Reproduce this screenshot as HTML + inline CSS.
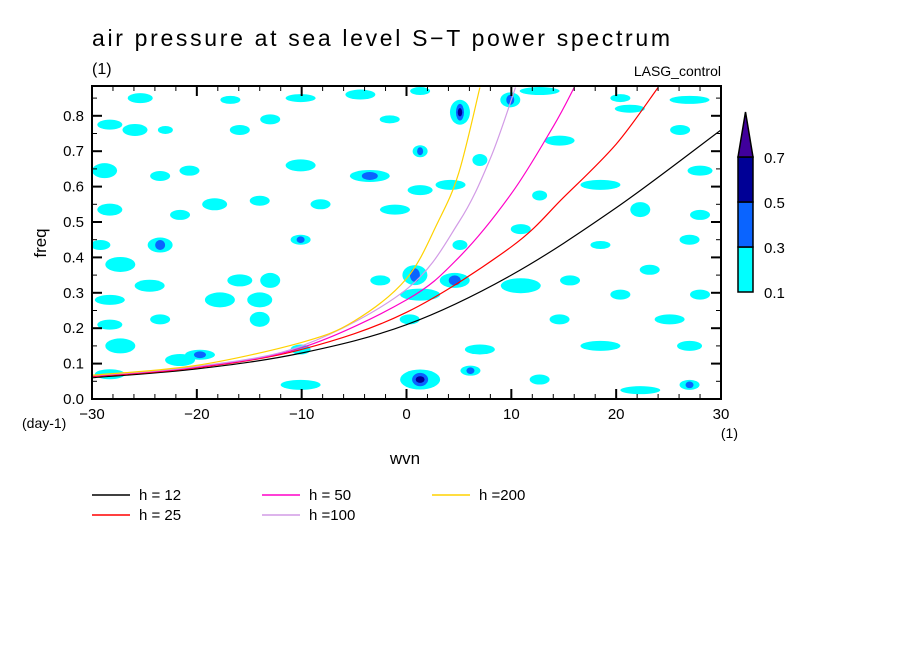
<!DOCTYPE html>
<html><head><meta charset="utf-8">
<style>
html,body{margin:0;padding:0;background:#fff;}
svg{display:block;font-family:"Liberation Sans",sans-serif;}
</style></head>
<body>
<svg id="chart" width="904" height="654" viewBox="0 0 904 654">
<text x="92" y="46" font-size="23" textLength="578" lengthAdjust="spacing">air pressure at sea level S−T power spectrum</text>
<text x="92" y="74" font-size="16">(1)</text>
<text x="721" y="76" font-size="14" text-anchor="end">LASG_control</text>
<g id="blobs"></g>
<g id="curves"></g>
<g id="axes"></g>
<text x="46" y="243" font-size="17" text-anchor="middle" transform="rotate(-90 46 243)">freq</text>
<text x="405" y="464" font-size="17" text-anchor="middle">wvn</text>
<text x="22" y="428" font-size="14">(day-1)</text>
<text x="738" y="438" font-size="14" text-anchor="end">(1)</text>
<g id="colorbar"></g>
<g id="legend"></g>
</svg>
<script>
const NS="http://www.w3.org/2000/svg";
// axis data
const xTicks=[-30,-20,-10,0,10,20,30];
const yTicks=[0,0.1,0.2,0.3,0.4,0.5,0.6,0.7,0.8];
const yTickLabels=["0.0","0.1","0.2","0.3","0.4","0.5","0.6","0.7","0.8"];
// dispersion curves (wvn, freq)
const curveNames=["h = 12","h = 25","h = 50","h =100","h =200"];
const h12K=[-30,-20,-10,0,10,20,30];
const h12F=[0.06,0.085,0.13,0.21,0.35,0.54,0.76];
const h25K=[-30,-20,-10,0,10,15,20,24];
const h25F=[0.063,0.088,0.14,0.245,0.43,0.57,0.72,0.88];
const h50K=[-30,-20,-10,0,5,10,14,16];
const h50F=[0.065,0.09,0.145,0.28,0.4,0.58,0.77,0.88];
const h100K=[-30,-20,-10,0,5,8,10.4];
const h100F=[0.066,0.092,0.15,0.31,0.5,0.68,0.88];
const h200K=[-30,-20,-10,-5,0,3,5,7];
const h200F=[0.067,0.095,0.16,0.22,0.34,0.5,0.64,0.88];
// cyan contour regions (wvn, freq)
const blobK=[-25.4,-16.8,-10.1,-4.4,1.3,12.7,20.4,27,-28.3,-25.9,-23,-15.9,-13,-1.6,1.3,5.1,9.9,7,14.6,21.3,26.1,-28.8,-23.5,-20.7,-10.1,-3.5,1.3,4.2,12.7,18.5,28,-28.3,-21.6,-18.3,-14,-8.2,-1.1,22.3,28,-29.2,-23.5,-10.1,5.1,10.9,18.5,27,-27.3,-24.5,-15.9,-13,-2.5,0.8,4.6,10.9,15.6,23.2,-28.3,-17.8,-14,1.3,20.4,28,-28.3,-23.5,-14,0.3,14.6,25.1,-27.3,-19.7,-10.1,7,18.5,27,-28.3,-21.6,-10.1,1.3,6.1,12.7,22.3,27];
const blobF=[0.85,0.845,0.85,0.86,0.87,0.87,0.85,0.845,0.775,0.76,0.76,0.76,0.79,0.79,0.70,0.81,0.845,0.675,0.73,0.82,0.76,0.645,0.63,0.645,0.66,0.63,0.59,0.605,0.575,0.605,0.645,0.535,0.52,0.55,0.56,0.55,0.535,0.535,0.52,0.435,0.435,0.45,0.435,0.48,0.435,0.45,0.38,0.32,0.335,0.335,0.335,0.35,0.335,0.32,0.335,0.365,0.28,0.28,0.28,0.295,0.295,0.295,0.21,0.225,0.225,0.225,0.225,0.225,0.15,0.125,0.14,0.14,0.15,0.15,0.07,0.11,0.04,0.055,0.08,0.055,0.025,0.04];
const blobV=[0.2,0.2,0.2,0.2,0.2,0.2,0.2,0.2,0.2,0.2,0.2,0.2,0.2,0.2,0.4,0.8,0.4,0.2,0.2,0.2,0.2,0.2,0.2,0.2,0.2,0.4,0.2,0.2,0.2,0.2,0.2,0.2,0.2,0.2,0.2,0.2,0.2,0.2,0.2,0.2,0.4,0.4,0.2,0.2,0.2,0.2,0.2,0.2,0.2,0.2,0.2,0.4,0.4,0.2,0.2,0.2,0.2,0.2,0.2,0.2,0.2,0.2,0.2,0.2,0.2,0.2,0.2,0.2,0.2,0.4,0.2,0.2,0.2,0.2,0.2,0.2,0.2,0.8,0.4,0.2,0.2,0.4];
const blobW=[25,20,30,30,20,40,20,40,25,25,15,20,20,20,15,20,20,15,30,30,20,25,20,20,30,40,25,30,15,40,25,25,20,25,20,20,30,20,20,20,25,20,15,20,20,20,30,30,25,20,20,25,30,40,20,20,30,30,25,40,20,20,25,20,20,20,20,30,30,30,20,30,40,25,30,30,40,40,20,20,40,20];
const blobH=[10,8,8,10,8,8,8,8,10,12,8,10,10,8,12,25,15,12,10,8,10,15,10,10,12,12,10,10,10,10,10,12,10,12,10,10,10,15,10,10,15,10,10,10,8,10,15,12,12,15,10,20,15,15,10,10,10,15,15,12,10,10,10,10,15,10,10,10,15,10,10,10,10,10,10,12,10,20,10,10,8,10];
// colorbar
const levels=[0.1,0.3,0.5,0.7];
const levelColors=["#00ffff","#0a64ff","#000096","#40009c"];

const X0=92,X1=721,Y0=399,Y1=86,KMIN=-30,KMAX=30,FPX=354;
const xs=k=>X0+(k-KMIN)/(KMAX-KMIN)*(X1-X0);
const ys=f=>Y0-f*FPX;
function mk(tag,attrs,parent){const e=document.createElementNS(NS,tag);for(const a in attrs)e.setAttribute(a,attrs[a]);parent.appendChild(e);return e;}
const svg=document.getElementById('chart');
const defs=mk('defs',{},svg);
const cp=mk('clipPath',{id:'pc'},defs);
mk('rect',{x:X0,y:Y1,width:X1-X0,height:Y0-Y1},cp);

const bl=document.getElementById('blobs');
bl.setAttribute('clip-path','url(#pc)');
for(let i=0;i<blobK.length;i++){
  const cx=xs(blobK[i]),cy=ys(blobF[i]);
  const e=mk('ellipse',{cx:cx,cy:cy,rx:blobW[i]/2,ry:blobH[i]/2,fill:levelColors[0]},bl);
  
  
  if(blobV[i]>=0.3){
    const d=mk('ellipse',{cx:cx,cy:cy,rx:Math.max(3,blobW[i]/5),ry:Math.max(3,blobH[i]/3),fill:levelColors[1]},bl);
    
    
  }
  if(blobV[i]>=0.5){
    const d=mk('ellipse',{cx:cx,cy:cy,rx:Math.max(2,blobW[i]/9),ry:Math.max(2,blobH[i]/6),fill:levelColors[2]},bl);
    
    
  }
}

function smoothPath(pts){
  let d='M'+pts[0][0].toFixed(1)+','+pts[0][1].toFixed(1);
  for(let i=0;i<pts.length-1;i++){
    const p0=pts[i-1]||pts[i],p1=pts[i],p2=pts[i+1],p3=pts[i+2]||p2;
    const c1=[p1[0]+(p2[0]-p0[0])/6,p1[1]+(p2[1]-p0[1])/6];
    const c2=[p2[0]-(p3[0]-p1[0])/6,p2[1]-(p3[1]-p1[1])/6];
    d+=' C'+c1.map(v=>v.toFixed(1)).join(',')+' '+c2.map(v=>v.toFixed(1)).join(',')+' '+p2.map(v=>v.toFixed(1)).join(',');
  }
  return d;
}
const cv=document.getElementById('curves');
cv.setAttribute('clip-path','url(#pc)');
const curveK=[h12K,h25K,h50K,h100K,h200K];
const curveF=[h12F,h25F,h50F,h100F,h200F];
const curveColors=["#000000","#ff0000","#ff00c8","#d29be6","#ffd200"];
for(let c=0;c<curveK.length;c++){
  const pts=curveK[c].map((k,i)=>[xs(k),ys(curveF[c][i])]);
  const l=mk('path',{d:smoothPath(pts),fill:'none',stroke:curveColors[c],'stroke-width':1.2},cv);
  
  
}

const ax=document.getElementById('axes');
const fr=mk('rect',{x:X0,y:Y1,width:X1-X0,height:Y0-Y1,fill:'none',stroke:'#000','stroke-width':2},ax);


for(let k=KMIN;k<=KMAX;k+=2){
  const major=k%10===0, L=major?10:5, x=xs(k);
  mk('line',{x1:x,y1:Y0,x2:x,y2:Y0-L,stroke:'#000','stroke-width':major?2:1},ax);
  mk('line',{x1:x,y1:Y1,x2:x,y2:Y1+L,stroke:'#000','stroke-width':major?2:1},ax);
}
xTicks.forEach(k=>{
  const t=mk('text',{x:xs(k),y:Y0+20,'font-size':15,'text-anchor':'middle'},ax);
  t.textContent=(k<0?'−':'')+Math.abs(k);
  
  
});
for(let f=0;f<=0.88;f+=0.05){
  const major=Math.abs(f*10-Math.round(f*10))<0.01, L=major?10:5, y=ys(f);
  mk('line',{x1:X0,y1:y,x2:X0+L,y2:y,stroke:'#000','stroke-width':major?2:1},ax);
  mk('line',{x1:X1,y1:y,x2:X1-L,y2:y,stroke:'#000','stroke-width':major?2:1},ax);
}
yTicks.forEach((f,i)=>{
  const t=mk('text',{x:X0-8,y:ys(f)+5,'font-size':15,'text-anchor':'end'},ax);
  t.textContent=yTickLabels[i];
  
  
});

const cb=document.getElementById('colorbar');
const CBX=738,CBW=15,cbY=[292,247,202,157];
for(let i=0;i<3;i++){
  const r=mk('rect',{x:CBX,y:cbY[i+1],width:CBW,height:cbY[i]-cbY[i+1],fill:levelColors[i],stroke:'#000','stroke-width':1.5},cb);
  
  
}
const tri=mk('polygon',{points:`${CBX},157 ${CBX+CBW},157 ${CBX+CBW/2},112`,fill:levelColors[3],stroke:'#000','stroke-width':1.5},cb);


levels.forEach((v,i)=>{
  const t=mk('text',{x:764,y:cbY[i]+6,'font-size':15},cb);
  t.textContent=v.toFixed(1);
  
  
});

const lg=document.getElementById('legend');
const legX=[92,92,262,262,432],legY=[495,515,495,515,495];
for(let c=0;c<curveNames.length;c++){
  const g=mk('g',{},lg);
  
  
  mk('line',{x1:legX[c],y1:legY[c],x2:legX[c]+38,y2:legY[c],stroke:curveColors[c],'stroke-width':1.5},g);
  const t=mk('text',{x:legX[c]+47,y:legY[c]+5,'font-size':15},g);
  t.textContent=curveNames[c];
}
</script>
</body></html>
